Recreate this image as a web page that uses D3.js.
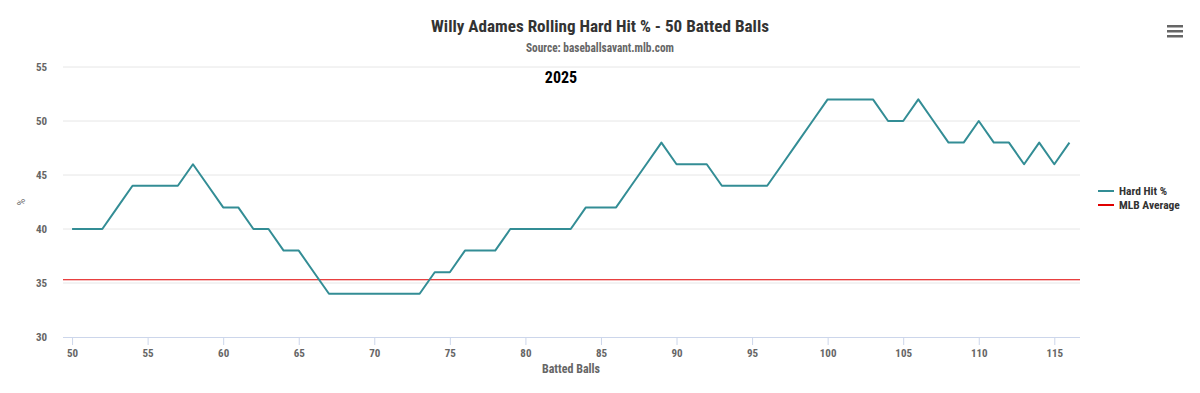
<!DOCTYPE html>
<html><head><meta charset="utf-8">
<script src="https://cdn.jsdelivr.net/npm/d3@7"></script>
<style>
body{margin:0;background:#fff;}
text{font-family:"Liberation Sans Narrow","Roboto Condensed","Open Sans",sans-serif;}
</style></head>
<body><svg id="c" width="1200" height="393"></svg>
<script>
const battedBalls = [50,51,52,53,54,55,56,57,58,59,60,61,62,63,64,65,66,67,68,69,70,71,72,73,74,75,76,77,78,79,80,81,82,83,84,85,86,87,88,89,90,91,92,93,94,95,96,97,98,99,100,101,102,103,104,105,106,107,108,109,110,111,112,113,114,115,116];
const hardHit = [40,40,40,42,44,44,44,44,46,44,42,42,40,40,38,38,36,34,34,34,34,34,34,34,36,36,38,38,38,40,40,40,40,40,42,42,42,44,46,48,46,46,46,44,44,44,44,46,48,50,52,52,52,52,50,50,52,50,48,48,50,48,48,46,48,46,48];
const mlbAverage = 35.3;
const xTicks = [50,55,60,65,70,75,80,85,90,95,100,105,110,115];
const yTicks = [30,35,40,45,50,55];

const svg = d3.select("#c");
const x = d3.scaleLinear().domain([49.4,116.7]).range([63,1080]);
const y = d3.scaleLinear().domain([30,55]).range([337,67]);

// grid
svg.append("g").selectAll("line").data(yTicks.filter(d=>d>30)).join("line")
  .attr("x1",63).attr("x2",1080).attr("y1",d=>y(d)).attr("y2",d=>y(d))
  .attr("stroke","#e6e6e6").attr("stroke-width",1);

// y labels
svg.append("g").selectAll("text").data(yTicks).join("text")
  .attr("x",47).attr("y",d=>y(d)+4).attr("text-anchor","end")
  .attr("font-size",11).attr("font-weight","bold").attr("fill","#666").text(d=>d);

// x axis
const xa = svg.append("g").attr("transform","translate(0,337)")
  .call(d3.axisBottom(x).tickValues(xTicks).tickSize(8).tickPadding(4));
xa.select(".domain").attr("stroke","#ccd6eb").attr("d","M63,0.5H1080");
xa.selectAll(".tick line").attr("stroke","#ccd6eb");
xa.selectAll(".tick text").attr("font-size",11).attr("font-weight","bold").attr("fill","#666")
  .attr("font-family",'"Liberation Sans Narrow","Roboto Condensed","Open Sans",sans-serif');

// MLB average
svg.append("line").attr("x1",63).attr("x2",1080).attr("y1",y(mlbAverage)).attr("y2",y(mlbAverage))
  .attr("stroke","#e00000").attr("stroke-width",1.2);

// series
svg.append("path").datum(battedBalls.map((b,i)=>[b,hardHit[i]]))
  .attr("fill","none").attr("stroke","#338d95").attr("stroke-width",2).attr("stroke-linejoin","round")
  .attr("d",d3.line().x(d=>x(d[0])).y(d=>y(d[1])));

// titles
svg.append("text").attr("x",600).attr("y",32).attr("text-anchor","middle")
  .attr("font-size",17).attr("font-weight","bold").attr("fill","#333")
  .attr("textLength",338).attr("lengthAdjust","spacingAndGlyphs")
  .text("Willy Adames Rolling Hard Hit % - 50 Batted Balls");
svg.append("text").attr("x",600).attr("y",52).attr("text-anchor","middle")
  .attr("font-size",12).attr("font-weight","bold").attr("fill","#666")
  .attr("textLength",148).attr("lengthAdjust","spacingAndGlyphs")
  .text("Source: baseballsavant.mlb.com");
svg.append("text").attr("x",561).attr("y",83).attr("text-anchor","middle")
  .attr("font-size",16).attr("font-weight","bold").attr("fill","#000").text("2025");
svg.append("text").attr("x",571).attr("y",373).attr("text-anchor","middle")
  .attr("font-size",12).attr("font-weight","bold").attr("fill","#666").text("Batted Balls");
svg.append("text").attr("transform","translate(25,202) rotate(-90)").attr("text-anchor","middle")
  .attr("font-size",10).attr("fill","#666").text("%");

// legend
const legend = [{name:"Hard Hit %",color:"#338d95"},{name:"MLB Average",color:"#e00000"}];
const lg = svg.append("g").selectAll("g").data(legend).join("g")
  .attr("transform",(d,i)=>`translate(1098,${191+i*14})`);
lg.append("line").attr("x1",0).attr("x2",16).attr("stroke",d=>d.color).attr("stroke-width",2);
lg.append("text").attr("x",21).attr("y",4).attr("font-size",11.5).attr("font-weight","bold")
  .attr("fill","#333").text(d=>d.name);

// menu icon
svg.append("g").selectAll("rect").data([0,1,2]).join("rect")
  .attr("x",1167).attr("y",d=>25+d*5).attr("width",16).attr("height",2.5).attr("fill","#666");
</script></body></html>
